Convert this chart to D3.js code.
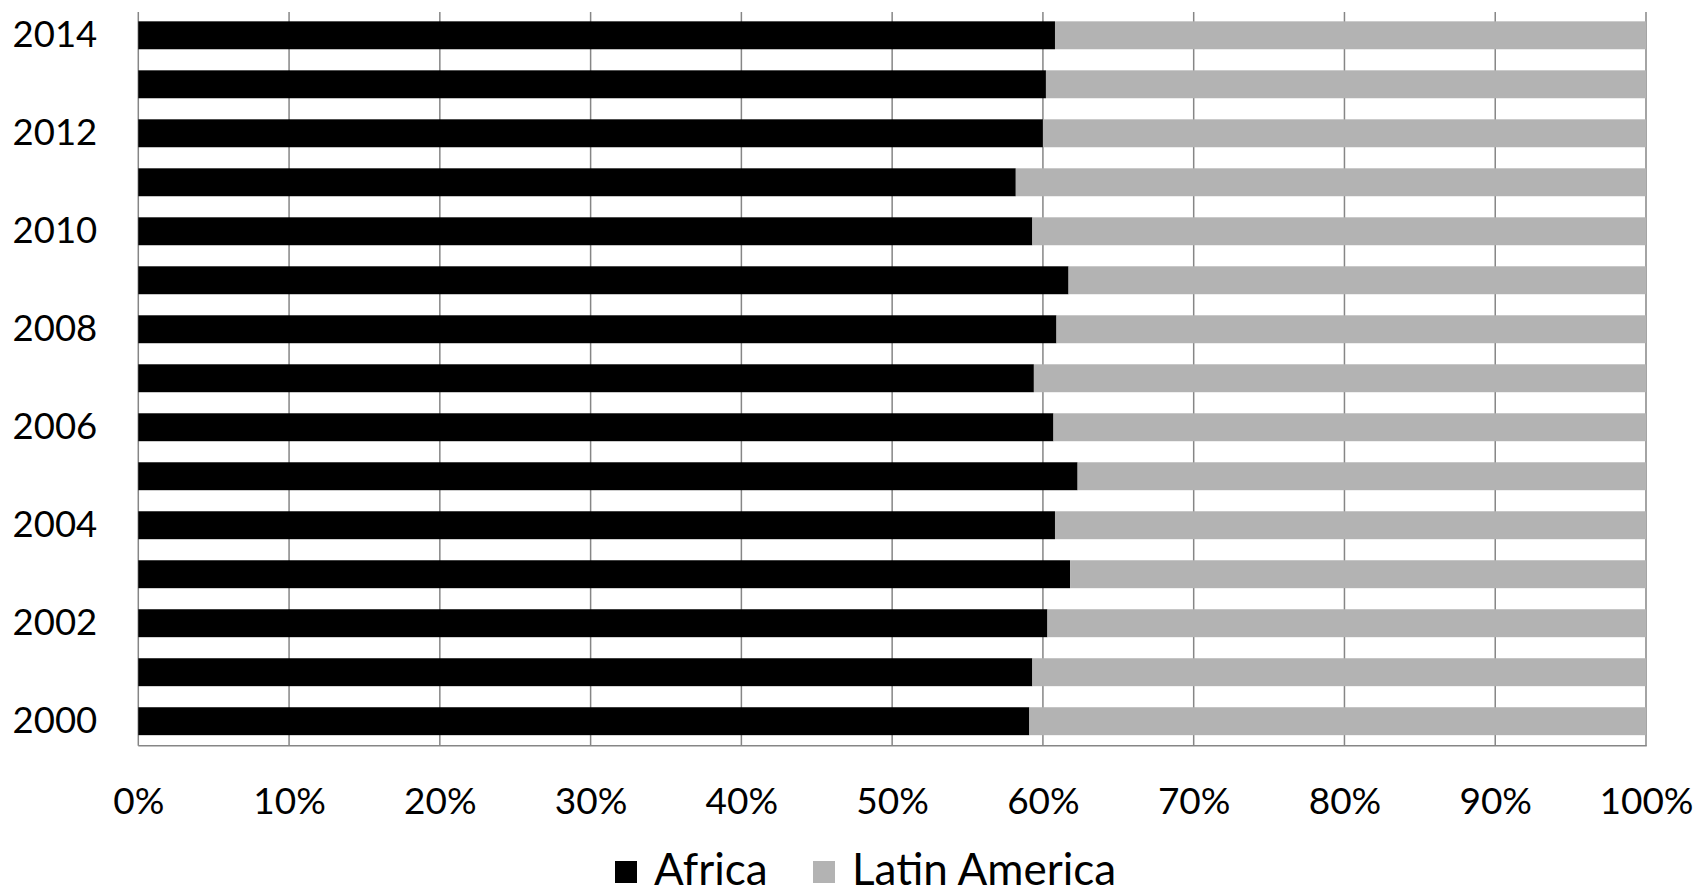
<!DOCTYPE html>
<html><head><meta charset="utf-8">
<script src="https://cdn.jsdelivr.net/npm/d3@7"></script>
<style>body{margin:0;background:#fff}svg{display:block}text{font-family:Lato,"Open Sans",sans-serif;fill:#000}</style>
</head><body>
<script>
const years = [2014,2013,2012,2011,2010,2009,2008,2007,2006,2005,2004,2003,2002,2001,2000];
const africa = [0.608,0.602,0.600,0.582,0.593,0.617,0.609,0.594,0.607,0.623,0.608,0.618,0.603,0.593,0.591];
const yearLabels = [2014,2012,2010,2008,2006,2004,2002,2000];
const xTicks = [0,0.1,0.2,0.3,0.4,0.5,0.6,0.7,0.8,0.9,1.0];
const seriesNames = ["Africa","Latin America"];
const seriesColors = ["#000000","#b3b3b3"];

const W=1698,H=895;
const L=138.3,R=1646,T=10.8,B=745.7;
const svg=d3.select("body").append("svg").attr("width",W).attr("height",H);
const x=d3.scaleLinear().domain([0,1]).range([L,R]);
const y=d3.scaleBand().domain(years).range([T,B]).paddingInner(0.43).paddingOuter(0.215);

// gridlines
svg.append("g").selectAll("line").data(xTicks).join("line")
  .attr("x1",d=>x(d)).attr("x2",d=>x(d)).attr("y1",12).attr("y2",B)
  .attr("stroke","#868686").attr("stroke-width",1.5);
// bottom axis line
svg.append("line").attr("x1",L).attr("x2",R+0.75).attr("y1",B).attr("y2",B)
  .attr("stroke","#868686").attr("stroke-width",1.5);

const data=years.map((yr,i)=>({year:yr,a:africa[i],l:1-africa[i]}));
const stack=d3.stack().keys(["a","l"])(data);
svg.append("g").selectAll("g").data(stack).join("g")
  .attr("fill",(d,i)=>seriesColors[i])
  .selectAll("rect").data(d=>d).join("rect")
  .attr("x",d=>x(d[0])).attr("width",d=>x(d[1])-x(d[0]))
  .attr("y",d=>y(d.data.year)).attr("height",y.bandwidth());

// y labels
const yAxis=d3.axisLeft(y).tickValues(yearLabels).tickSize(0).tickPadding(41);
const ga=svg.append("g").attr("transform",`translate(${L},0)`).call(yAxis);
ga.select(".domain").remove();
ga.selectAll("text").attr("font-size",36.5).attr("font-family","Lato").attr("fill","#000");

// x labels
const xAxis=d3.axisBottom(x).tickValues(xTicks).tickFormat(d3.format(".0%")).tickSize(0).tickPadding(42);
const gx=svg.append("g").attr("transform",`translate(0,${B})`).call(xAxis);
gx.select(".domain").remove();
gx.selectAll("text").attr("font-size",37).attr("font-family","Lato").attr("fill","#000");

// legend
const legX=[615,813];
const lg=svg.append("g").selectAll("g").data(seriesNames).join("g")
  .attr("transform",(d,i)=>`translate(${legX[i]},0)`);
lg.append("rect").attr("y",861).attr("width",22).attr("height",22).attr("fill",(d,i)=>seriesColors[i]);
lg.append("text").attr("x",39).attr("y",885).attr("font-size",44).text(d=>d);
</script>
</body></html>
